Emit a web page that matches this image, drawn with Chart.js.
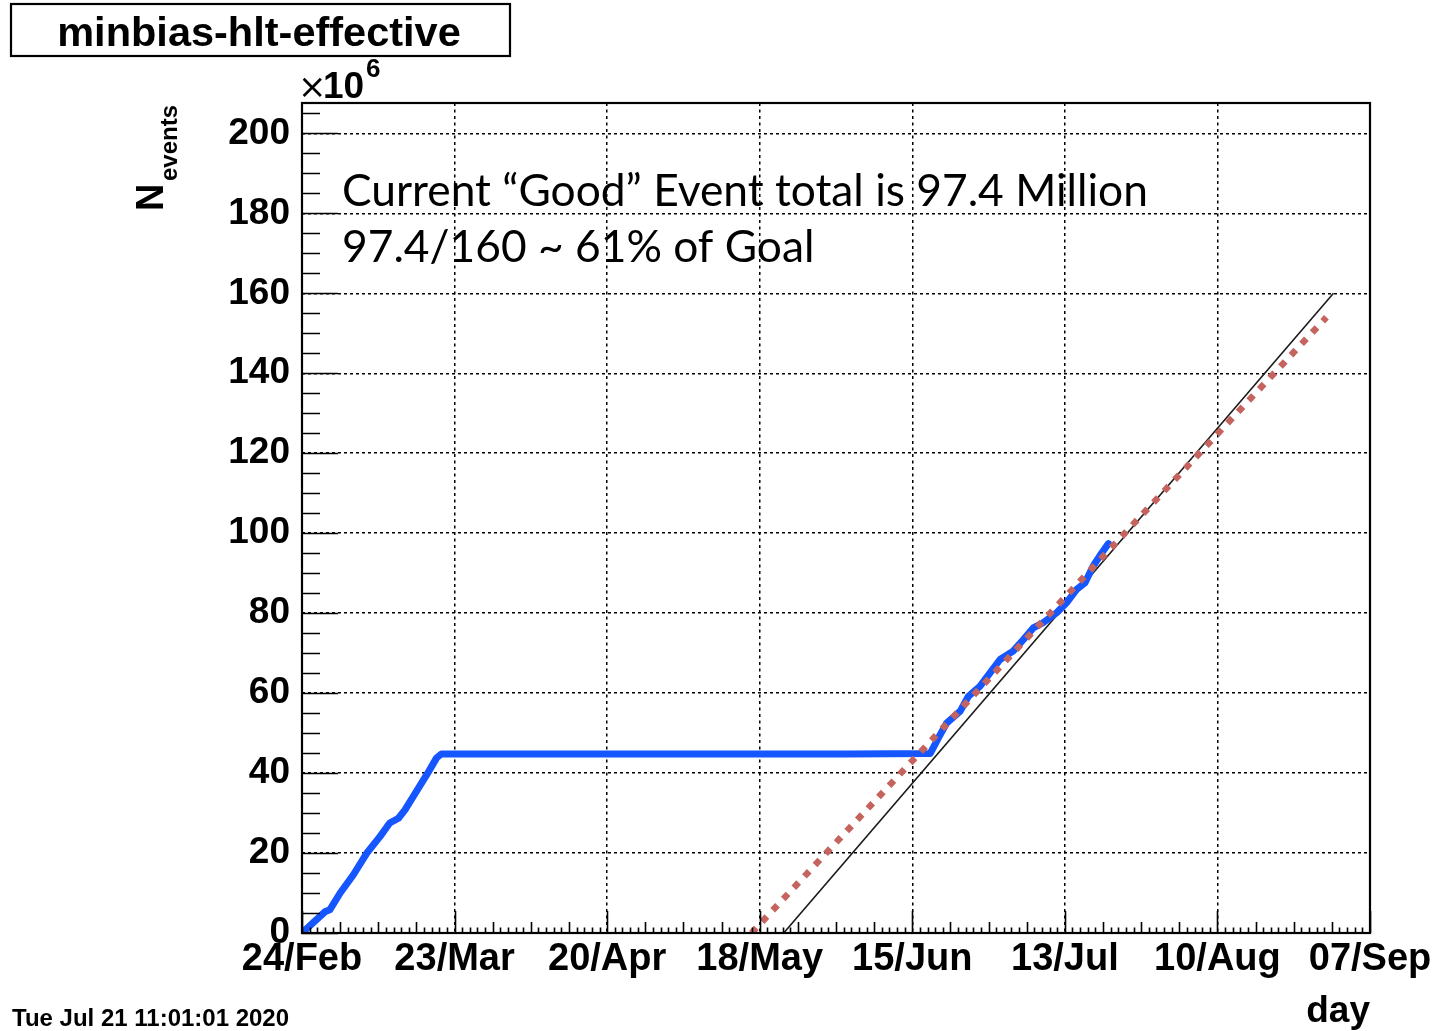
<!DOCTYPE html>
<html>
<head>
<meta charset="utf-8">
<script src="https://cdn.jsdelivr.net/npm/chart.js@4.4.1/dist/chart.umd.min.js"></script>
<style>
  html, body { margin: 0; padding: 0; background: #fff; }
  #wrap { width: 1439px; height: 1031px; position: relative; }
  canvas { display: block; }
</style>
</head>
<body>
<div id="wrap"><canvas id="c" width="1439" height="1031"></canvas></div>
<script>
// ---------------- data (days since 24/Feb/2020, events in millions) ----------------
const dayTickLabels = ['24/Feb', '23/Mar', '20/Apr', '18/May', '15/Jun', '13/Jul', '10/Aug', '07/Sep'];
const dayTickStep = 28;
const dayMax = 196;
const eventsMax = 207.6;
const eventsStep = 20;

const blueDays = [0, 4.2, 5.1, 7.0, 9.4, 11.9, 14.3, 16.1, 17.7, 18.9, 20.4, 22.9, 24.7, 25.6,
  60, 100, 115.3, 116.8, 118.3, 120.8, 122.3, 124.4, 126.3, 128.1, 130.5, 132.4, 134.2,
  136.0, 138.5, 140.3, 142.2, 143.7, 145.2, 146.8, 148.0];
const blueEvents = [0, 5.3, 5.8, 10.0, 14.5, 20.0, 24.1, 27.5, 28.7, 30.8, 34.1, 39.6, 43.8, 44.8,
  44.8, 44.8, 44.9, 48.8, 52.5, 55.5, 59.2, 61.7, 65.1, 68.4, 70.5, 73.4, 76.3,
  77.6, 80.1, 82.6, 86.0, 87.6, 91.8, 95.1, 97.4];

const trendDays = [82.5, 188.0];
const trendEvents = [0, 154.0];

const goalDays = [88.4, 189.3];
const goalEvents = [0, 160.0];

const titleText = 'minbias-hlt-effective';
const yTitleMain = 'N';
const yTitleSub = 'events';
const xTitle = 'day';
const dateStamp = 'Tue Jul 21 11:01:01 2020';
const noteLine1 = 'Current \u201cGood\u201d Event total is 97.4 Million';
const noteLine2 = '97.4/160 ~ 61% of Goal';

const toPoints = (xs, ys) => xs.map((v, i) => ({ x: v, y: ys[i] }));

// ---------------- ROOT-like decorations ----------------
const HELV = '"Liberation Sans", Arial, sans-serif';
const rootPlugin = {
  id: 'rootStyle',
  afterDatasetsDraw(chart) {
    const { ctx, chartArea: a, scales: { x, y } } = chart;
    ctx.save();
    ctx.strokeStyle = '#000';
    ctx.lineWidth = 1.6;
    ctx.setLineDash([]);
    ctx.beginPath();
    for (let v = 0; v <= eventsMax; v += 5) {
      const py = Math.round(y.getPixelForValue(v)) + 0.5;
      const len = (v % eventsStep === 0) ? 36 : 18;
      ctx.moveTo(a.left, py); ctx.lineTo(a.left + len, py);
    }
    for (let i = 0; i <= 140; i++) {
      const px = Math.round(x.getPixelForValue(i * 1.4)) + 0.5;
      let len = 5.5;
      if (i % 20 === 0) len = 22; else if (i % 5 === 0) len = 11;
      ctx.moveTo(px, a.bottom); ctx.lineTo(px, a.bottom - len);
    }
    ctx.stroke();
    ctx.lineWidth = 2.2;
    ctx.strokeRect(a.left, a.top, a.right - a.left, a.bottom - a.top);
    ctx.restore();
  },
  afterDraw(chart) {
    const { ctx, chartArea: a } = chart;
    ctx.save();
    ctx.fillStyle = '#000';
    ctx.strokeStyle = '#000';
    // title box
    ctx.lineWidth = 2.2;
    ctx.strokeRect(11, 4, 499, 52);
    ctx.font = 'bold 41.5px ' + HELV;
    ctx.textAlign = 'center';
    ctx.textBaseline = 'alphabetic';
    ctx.fillText(titleText, 259, 46);
    // x10^6
    ctx.textAlign = 'left';
    ctx.font = '34px "DejaVu Sans", sans-serif';
    ctx.fillText('\u00d7', 298, 98);
    ctx.font = 'bold 37px ' + HELV;
    ctx.fillText('10', 323, 98);
    ctx.font = 'bold 26px ' + HELV;
    ctx.fillText('6', 366, 77);
    // y title
    ctx.save();
    ctx.translate(163, 211);
    ctx.rotate(-Math.PI / 2);
    ctx.font = 'bold 38px ' + HELV;
    ctx.fillText(yTitleMain, 0, 0);
    ctx.font = 'bold 24px ' + HELV;
    ctx.fillText(yTitleSub, 30, 14);
    ctx.restore();
    // x title
    ctx.font = 'bold 37px ' + HELV;
    ctx.textAlign = 'right';
    ctx.fillText(xTitle, a.right, 1022);
    // date stamp
    ctx.font = 'bold 24px ' + HELV;
    ctx.textAlign = 'left';
    ctx.fillText(dateStamp, 12, 1026);
    // notes
    ctx.font = '44.3px Lato, "Open Sans", sans-serif';
    ctx.fillText(noteLine1, 342, 206);
    ctx.fillText(noteLine2, 342, 262);
    ctx.restore();
  }
};

const gridCommon = {
  color: '#000',
  lineWidth: 1.5,
  drawTicks: false,
};

new Chart(document.getElementById('c'), {
  type: 'scatter',
  data: {
    datasets: [
      {
        label: 'goal',
        data: toPoints(goalDays, goalEvents),
        showLine: true,
        borderColor: '#1a1a1a',
        borderWidth: 1.6,
        pointRadius: 0,
        order: 3,
      },
      {
        label: 'events',
        data: toPoints(blueDays, blueEvents),
        showLine: true,
        borderColor: '#1556ff',
        borderWidth: 7,
        borderJoinStyle: 'round',
        borderCapStyle: 'round',
        pointRadius: 0,
        order: 2,
      },
      {
        label: 'trend',
        data: toPoints(trendDays, trendEvents),
        showLine: true,
        borderColor: '#c5645e',
        borderWidth: 6.5,
        borderDash: [7, 8.5],
        borderCapStyle: 'butt',
        pointRadius: 0,
        order: 1,
      },
    ]
  },
  options: {
    responsive: false,
    animation: false,
    devicePixelRatio: 1,
    layout: { padding: { left: 0, right: 69, top: 103, bottom: 0 } },
    plugins: { legend: { display: false }, tooltip: { enabled: false } },
    scales: {
      x: {
        type: 'linear',
        min: 0,
        max: dayMax,
        afterFit(s) { s.height = 98; },
        grid: gridCommon,
        border: { display: false, dash: [3, 3.5] },
        ticks: {
          stepSize: dayTickStep,
          autoSkip: false,
          maxRotation: 0,
          includeBounds: false,
          padding: 4,
          color: '#000',
          font: { family: HELV, size: 38, weight: 'bold' },
          callback: (v) => dayTickLabels[Math.round(v / dayTickStep)],
        },
      },
      y: {
        type: 'linear',
        min: 0,
        max: eventsMax,
        afterFit(s) { s.width = 302; },
        grid: gridCommon,
        border: { display: false, dash: [3, 3] },
        ticks: {
          stepSize: eventsStep,
          includeBounds: false,
          padding: 12,
          color: '#000',
          font: { family: HELV, size: 37, weight: 'bold' },
        },
      },
    },
  },
  plugins: [rootPlugin],
});
</script>
</body>
</html>
